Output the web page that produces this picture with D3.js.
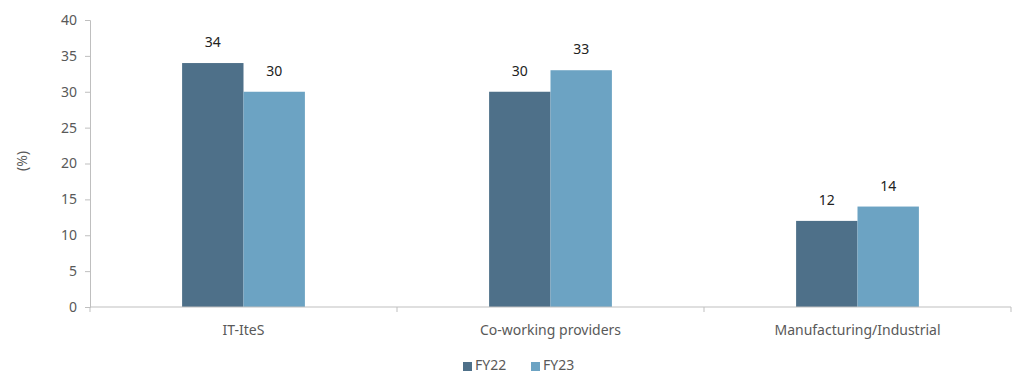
<!DOCTYPE html>
<html>
<head>
<meta charset="utf-8">
<script src="https://cdn.jsdelivr.net/npm/d3@7"></script>
<style>
  body { margin: 0; background: #fff; }
  svg text { font-family: "Noto Sans", "Open Sans", sans-serif; }
</style>
</head>
<body>
<div id="chart"></div>
<script>
const categories = ["IT-IteS", "Co-working providers", "Manufacturing/Industrial"];
const seriesNames = ["FY22", "FY23"];
const fy22 = [34, 30, 12];
const fy23 = [30, 33, 14];
const yTicks = [0, 5, 10, 15, 20, 25, 30, 35, 40];

const colors = { FY22: "#4e7089", FY23: "#6ca3c3" };
const axisGrey = "#bfbfbf";
const labelGrey = "#595959";

const W = 1013, H = 374;
const margin = { top: 20, right: 2, bottom: 67, left: 90 };
const width = W - margin.left - margin.right,
    height = H - margin.top - margin.bottom;

const svgRoot = d3.select("#chart").append("svg")
    .attr("width", W)
    .attr("height", H);

const svg = svgRoot.append("g")
    .attr("transform", `translate(${margin.left},${margin.top})`);

const x = d3.scaleBand()
    .domain(categories)
    .range([0, width]);

const xInner = d3.scaleBand()
    .domain(seriesNames)
    .range([x.bandwidth() * 0.3, x.bandwidth() * 0.7]);

const y = d3.scaleLinear()
    .domain([0, 40])
    .range([height, 0]);

const data = categories.map((c, i) => ({ cat: c, FY22: fy22[i], FY23: fy23[i] }));

// Bars
const groups = svg.selectAll(".grp")
    .data(data)
    .join("g")
    .attr("transform", d => `translate(${x(d.cat)},0)`);

groups.selectAll("rect")
    .data(d => seriesNames.map(s => ({ s, v: d[s] })))
    .join("rect")
    .attr("x", d => xInner(d.s))
    .attr("y", d => y(d.v))
    .attr("width", xInner.bandwidth())
    .attr("height", d => height - y(d.v))
    .attr("fill", d => colors[d.s]);

groups.selectAll("text.val")
    .data(d => seriesNames.map(s => ({ s, v: d[s] })))
    .join("text")
    .attr("class", "val")
    .attr("x", d => xInner(d.s) + xInner.bandwidth() / 2)
    .attr("y", d => y(d.v) - 16)
    .attr("text-anchor", "middle")
    .style("font-size", "14px")
    .style("fill", "#222")
    .text(d => d.v);

// Y axis
const yAxis = svg.append("g")
    .call(d3.axisLeft(y).tickValues(yTicks).tickSize(5).tickPadding(8));
yAxis.select(".domain").attr("stroke", axisGrey);
yAxis.selectAll(".tick line").attr("stroke", axisGrey);
yAxis.selectAll("text")
    .style("font-size", "14px")
    .style("fill", labelGrey);

svg.append("text")
    .attr("transform", "rotate(-90)")
    .attr("x", -141)
    .attr("y", -63)
    .attr("text-anchor", "middle")
    .style("font-size", "14px")
    .style("fill", labelGrey)
    .text("(%)");

// X axis
const xAxis = svg.append("g")
    .attr("transform", `translate(0,${height})`);
xAxis.append("line")
    .attr("x1", 0).attr("x2", width)
    .attr("stroke", axisGrey);
const bounds = categories.map(c => x(c)).concat([width]);
xAxis.selectAll("line.tk")
    .data(bounds)
    .join("line")
    .attr("class", "tk")
    .attr("x1", d => d).attr("x2", d => d)
    .attr("y1", 0).attr("y2", 5)
    .attr("stroke", axisGrey);
xAxis.selectAll("text")
    .data(categories)
    .join("text")
    .attr("x", d => x(d) + x.bandwidth() / 2)
    .attr("y", 28)
    .attr("text-anchor", "middle")
    .style("font-size", "14px")
    .style("fill", labelGrey)
    .text(d => d);

// Legend
const legend = svgRoot.append("g")
    .attr("transform", `translate(463,${H - 4})`);
const legendX = d3.scalePoint().domain(seriesNames).range([0, 68]);
const li = legend.selectAll("g")
    .data(seriesNames)
    .join("g")
    .attr("transform", d => `translate(${legendX(d)},0)`);
li.append("rect")
    .attr("x", 0).attr("y", -8)
    .attr("width", 9).attr("height", 9)
    .attr("fill", d => colors[d]);
li.append("text")
    .attr("x", 12).attr("y", 0)
    .style("font-size", "14px")
    .style("fill", labelGrey)
    .text(d => d);
</script>
</body>
</html>
